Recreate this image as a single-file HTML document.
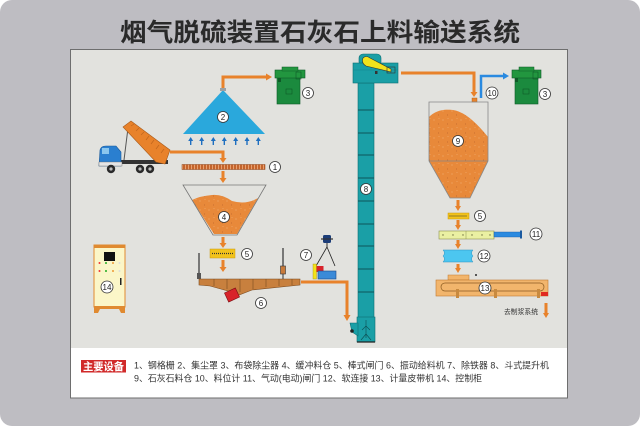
<!DOCTYPE html>
<html><head><meta charset="utf-8"><style>
html,body{margin:0;padding:0;background:#fff;}
svg{display:block;}
text{font-family:"Liberation Sans","Noto Sans CJK SC",sans-serif;}
</style></head><body>
<svg width="640" height="426" viewBox="0 0 640 426" xmlns="http://www.w3.org/2000/svg">
<defs>
<pattern id="grate" width="3" height="6" patternUnits="userSpaceOnUse"><rect width="3" height="6" fill="#c4642c"/><rect x="2" width="1" height="6" fill="#e7a070"/></pattern>
<pattern id="sand" width="9" height="9" patternUnits="userSpaceOnUse"><rect width="9" height="9" fill="#e8893a"/><circle cx="2" cy="3" r="0.5" fill="#f6c08a"/><circle cx="6.5" cy="7" r="0.45" fill="#b8602a"/><circle cx="7" cy="1.5" r="0.4" fill="#f6c08a"/></pattern>
</defs>
<!-- outer background -->
<rect x="0" y="0" width="640" height="426" rx="12" fill="#bebdc2"/>
<!-- title -->
<text x="320" y="41" font-size="25" font-weight="bold" text-anchor="middle" textLength="400" lengthAdjust="spacingAndGlyphs" fill="#2a2a2a" style="font-family:'Liberation Sans','Noto Sans CJK SC',sans-serif">烟气脱硫装置石灰石上料输送系统</text>
<!-- panel -->
<rect x="70.5" y="49.5" width="497" height="348.5" fill="#ffffff" stroke="#6e6e6e" stroke-width="1"/>
<rect x="71" y="50" width="496" height="298" fill="#e2e2de"/>

<!-- ===== Dust cover 2 ===== -->
<path d="M223,90 V77 H266" fill="none" stroke="#e8822b" stroke-width="3"/>
<polygon points="266,73.5 272,77 266,80.5" fill="#e8822b"/>
<polygon points="223,90 265,134 183,134" fill="#2aa8dc"/>
<rect x="220" y="88" width="6" height="3" fill="#9aa0a4"/>
<circle cx="223" cy="117" r="5.5" fill="#fff" stroke="#333" stroke-width="0.8"/>
<text x="223" y="120" font-size="8" text-anchor="middle" fill="#222">2</text>
<!-- blue up arrows -->
<g fill="#1f6fc0">
<polygon points="188.2,141 193.2,141 190.7,137"/><rect x="190" y="141" width="1.4" height="4"/>
<polygon points="199.2,141 204.2,141 201.7,137"/><rect x="201" y="141" width="1.4" height="4"/>
<polygon points="210.8,141 215.8,141 213.3,137"/><rect x="212.6" y="141" width="1.4" height="4"/>
<polygon points="221.8,141 226.8,141 224.3,137"/><rect x="223.6" y="141" width="1.4" height="4"/>
<polygon points="233.2,141 238.2,141 235.7,137"/><rect x="235" y="141" width="1.4" height="4"/>
<polygon points="244.5,141 249.5,141 247,137"/><rect x="246.3" y="141" width="1.4" height="4"/>
<polygon points="255.8,141 260.8,141 258.3,137"/><rect x="257.6" y="141" width="1.4" height="4"/>
</g>

<!-- ===== Dust collector 3 (left) ===== -->
<g>
<rect x="277" y="75" width="23" height="29" fill="#1b8a3e" stroke="#0f5a28" stroke-width="0.6"/>
<rect x="275" y="70" width="30" height="8" fill="#22963f" stroke="#0f5a28" stroke-width="0.6"/>
<rect x="282" y="67" width="16" height="4" fill="#22963f" stroke="#0f5a28" stroke-width="0.5"/>
<rect x="296" y="72" width="5" height="7" fill="none" stroke="#0f5a28" stroke-width="0.6"/>
<rect x="286" y="89" width="6" height="5" fill="none" stroke="#0f5a28" stroke-width="0.6"/>
<rect x="278" y="78" width="3" height="4" fill="#0f5a28"/>
</g>
<circle cx="308" cy="93" r="5.5" fill="#fff" stroke="#333" stroke-width="0.8"/>
<text x="308" y="96" font-size="8" text-anchor="middle" fill="#222">3</text>

<!-- ===== Truck ===== -->
<g>
<!-- chassis -->
<rect x="110" y="160" width="58" height="4" fill="#333"/>
<!-- hydraulic -->
<line x1="124" y1="160" x2="128" y2="128" stroke="#555" stroke-width="1"/>
<!-- dump bed -->
<polygon points="123,127 131,121 170,150 165,164 156,162" fill="#e8822b" stroke="#a85a1a" stroke-width="0.6"/>
<g stroke="#c0661e" stroke-width="0.7">
<line x1="131" y1="126" x2="134" y2="124"/><line x1="136" y1="131" x2="139" y2="128"/><line x1="141" y1="135" x2="144" y2="132"/><line x1="146" y1="140" x2="149" y2="136"/><line x1="151" y1="144" x2="154" y2="140"/><line x1="156" y1="149" x2="159" y2="145"/><line x1="161" y1="153" x2="164" y2="149"/>
</g>
<!-- cab -->
<path d="M100,150 Q101,146 106,146 L116,146 L121,152 L121,166 L99,166 Z" fill="#2a7fd0" stroke="#1a5a9a" stroke-width="0.6"/>
<rect x="102" y="148" width="7" height="6" fill="#8ac6ee"/>
<rect x="99" y="162" width="23" height="4" fill="#e5e5e5" stroke="#666" stroke-width="0.4"/>
<!-- wheels -->
<circle cx="111" cy="169" r="4.2" fill="#2a2a2a"/><circle cx="111" cy="169" r="1.6" fill="#bbb"/>
<circle cx="140" cy="169" r="4.2" fill="#2a2a2a"/><circle cx="140" cy="169" r="1.6" fill="#bbb"/>
<circle cx="150" cy="169" r="4.2" fill="#2a2a2a"/><circle cx="150" cy="169" r="1.6" fill="#bbb"/>
</g>
<!-- truck pipe -->
<path d="M170,152 H223 V158" fill="none" stroke="#e8822b" stroke-width="3"/>
<polygon points="219.5,158 226.5,158 223,163" fill="#e8822b"/>

<!-- ===== Grate 1 ===== -->
<rect x="182" y="164.5" width="83" height="5" fill="url(#grate)" stroke="#8a4018" stroke-width="0.5"/>
<circle cx="275" cy="167" r="5.5" fill="#fff" stroke="#333" stroke-width="0.8"/>
<text x="275" y="170" font-size="8" text-anchor="middle" fill="#222">1</text>
<line x1="223" y1="171" x2="223" y2="178" stroke="#e8822b" stroke-width="3"/>
<polygon points="219.5,178 226.5,178 223,183" fill="#e8822b"/>

<!-- ===== Hopper 4 ===== -->
<path d="M192,200 Q200,196 212,195 Q222,194 232,201 Q246,205 258,198 L237,234 L214,234 Z" fill="url(#sand)"/>
<polygon points="183,185 266,185 237,235 213,235" fill="none" stroke="#777" stroke-width="0.8"/>
<circle cx="224" cy="217" r="5.5" fill="#fff" stroke="#333" stroke-width="0.8"/>
<text x="224" y="220" font-size="8" text-anchor="middle" fill="#222">4</text>
<line x1="223" y1="237" x2="223" y2="243" stroke="#e8822b" stroke-width="3"/>
<polygon points="219.5,243 226.5,243 223,248" fill="#e8822b"/>

<!-- ===== Gate 5 (left) ===== -->
<rect x="210" y="249" width="25" height="9" fill="#f2c31b" stroke="#c89a10" stroke-width="0.5"/>
<line x1="212" y1="253.5" x2="233" y2="253.5" stroke="#333" stroke-width="1.2" stroke-dasharray="1,1"/>
<circle cx="247" cy="254" r="5.5" fill="#fff" stroke="#333" stroke-width="0.8"/>
<text x="247" y="257" font-size="8" text-anchor="middle" fill="#222">5</text>
<line x1="223" y1="260" x2="223" y2="267" stroke="#e8822b" stroke-width="3"/>
<polygon points="219.5,267 226.5,267 223,272" fill="#e8822b"/>

<!-- ===== Feeder 6 ===== -->
<line x1="199" y1="253" x2="199" y2="274" stroke="#333" stroke-width="1.2"/>
<rect x="197" y="273" width="4" height="6" fill="#555"/>
<line x1="283" y1="248" x2="283" y2="266" stroke="#333" stroke-width="1.2"/>
<rect x="280.5" y="266" width="5" height="8" fill="#c87a3a" stroke="#333" stroke-width="0.6"/>
<line x1="283" y1="274" x2="283" y2="279" stroke="#333" stroke-width="1"/>
<polygon points="199,279 300,279 300,285 252,290 234,297 228,291 210,286 199,285" fill="#c8803e" stroke="#7a4a20" stroke-width="0.6"/>
<g stroke="#7a4a20" stroke-width="0.6">
<line x1="214" y1="279" x2="214" y2="286"/><line x1="227" y1="279" x2="227" y2="289"/><line x1="240" y1="279" x2="240" y2="292"/><line x1="253" y1="279" x2="253" y2="289"/><line x1="266" y1="279" x2="266" y2="287"/><line x1="279" y1="279" x2="279" y2="286"/><line x1="292" y1="279" x2="292" y2="285"/>
</g>
<g transform="rotate(-25 232 295)">
<rect x="226" y="290" width="12" height="10" fill="#d8232a" stroke="#7a1015" stroke-width="0.6"/>
</g>
<circle cx="261" cy="303" r="5.5" fill="#fff" stroke="#333" stroke-width="0.8"/>
<text x="261" y="306" font-size="8" text-anchor="middle" fill="#222">6</text>
<!-- feeder pipe -->
<path d="M301,282 H347 V315" fill="none" stroke="#e8822b" stroke-width="3"/>
<polygon points="343.5,315 350.5,315 347,321" fill="#e8822b"/>

<!-- ===== Iron remover 7 ===== -->
<circle cx="306" cy="255" r="5.5" fill="#fff" stroke="#333" stroke-width="0.8"/>
<text x="306" y="258" font-size="8" text-anchor="middle" fill="#222">7</text>
<rect x="323" y="235" width="8" height="8" rx="1.5" fill="#1c3d78"/>
<line x1="321" y1="239" x2="333" y2="239" stroke="#333" stroke-width="1.2"/>
<line x1="327" y1="243" x2="327" y2="247" stroke="#333" stroke-width="1"/>
<path d="M327,247 L316,266 M327,247 L335,266" stroke="#222" stroke-width="0.8" fill="none"/>
<rect x="313" y="264" width="3.5" height="15" fill="#f2e21a" stroke="#a09010" stroke-width="0.4"/>
<rect x="316.5" y="266" width="7" height="6" fill="#d8232a"/>
<rect x="318" y="271" width="18" height="8" fill="#3a8ad8" stroke="#1a4a8a" stroke-width="0.6"/>

<!-- ===== Control cabinet 14 ===== -->
<rect x="94" y="245" width="31" height="62" fill="#fbf6c8" stroke="#e08a30" stroke-width="1"/>
<rect x="94" y="245" width="31" height="3" fill="#e08a30"/>
<polygon points="94,306 125,306 125,313 121,313 119,309 100,309 98,313 94,313" fill="#e08a30"/>
<rect x="104" y="252" width="11" height="9" fill="#111"/>
<g>
<circle cx="99.5" cy="263" r="1" fill="#e33"/><circle cx="106" cy="263" r="1" fill="#2a2"/><circle cx="113" cy="263" r="1" fill="#e93"/><circle cx="119.5" cy="263" r="1" fill="#ddd"/>
<circle cx="99.5" cy="271" r="1" fill="#e33"/><circle cx="106" cy="271" r="1" fill="#2a2"/><circle cx="113" cy="271" r="1" fill="#e93"/><circle cx="119.5" cy="271" r="1" fill="#ddd"/>
</g>
<rect x="120" y="278" width="1.5" height="7" fill="#222"/>
<circle cx="107" cy="287" r="6" fill="#fff" stroke="#333" stroke-width="0.8"/>
<text x="107" y="290" font-size="8" text-anchor="middle" fill="#222">14</text>

<!-- ===== Bucket elevator 8 ===== -->
<rect x="358" y="83" width="16" height="235" fill="#1a9fa6" stroke="#0f6f74" stroke-width="0.6"/>
<g stroke="#0d4f53" stroke-width="0.9">
<line x1="358" y1="110" x2="374" y2="110"/><line x1="358" y1="133" x2="374" y2="133"/><line x1="358" y1="155" x2="374" y2="155"/><line x1="358" y1="178" x2="374" y2="178"/><line x1="358" y1="201" x2="374" y2="201"/><line x1="358" y1="224" x2="374" y2="224"/><line x1="358" y1="246" x2="374" y2="246"/><line x1="358" y1="269" x2="374" y2="269"/><line x1="358" y1="292" x2="374" y2="292"/>
</g>
<rect x="359" y="54" width="22" height="12" rx="4" fill="#1a9fa6" stroke="#0f6f74" stroke-width="0.6"/>
<rect x="353" y="63" width="45" height="20" fill="#1a9fa6" stroke="#0f6f74" stroke-width="0.6"/>
<line x1="353" y1="70" x2="398" y2="70" stroke="#13858b" stroke-width="0.5"/>
<path d="M363,58 Q366,55 370,58 L391,69 L391,72 L366,66 Q361,63 363,58 Z" fill="#f3e31c" stroke="#333" stroke-width="0.6"/>
<rect x="387" y="67" width="8" height="6" fill="none" stroke="#333" stroke-width="0.6"/>
<rect x="375" y="71" width="2.5" height="3" fill="#333"/>
<circle cx="366" cy="189" r="5.5" fill="#fff" stroke="#333" stroke-width="0.8"/>
<text x="366" y="192" font-size="8" text-anchor="middle" fill="#222">8</text>
<!-- boot -->
<rect x="357" y="317" width="18" height="25" fill="#1a9fa6" stroke="#0f6f74" stroke-width="0.6"/>
<line x1="357" y1="342" x2="375" y2="342" stroke="#222" stroke-width="1.2"/>
<path d="M366,320 L366,338 M362,330 L366,326 L370,330 M361,340 L366,334 L371,340" stroke="#0d4f53" stroke-width="0.6" fill="none"/>
<polygon points="350,323 358,323 358,336 352,332" fill="#1a9fa6" stroke="#0f6f74" stroke-width="0.6"/>
<circle cx="352" cy="331" r="1.8" fill="#222"/>

<!-- elevator -> silo pipe -->
<path d="M401,73 H474 V92" fill="none" stroke="#e8822b" stroke-width="3"/>
<polygon points="470.5,92 477.5,92 474,97" fill="#e8822b"/>
<rect x="472" y="98" width="5" height="4" fill="#e8822b" stroke="#a85a1a" stroke-width="0.4"/>
<!-- blue pipe -->
<path d="M481,98 V76 H503" fill="none" stroke="#2a8ae0" stroke-width="2.5"/>
<polygon points="503,72.5 509,76 503,79.5" fill="#2a8ae0"/>
<circle cx="492" cy="93" r="6" fill="#fff" stroke="#333" stroke-width="0.8"/>
<text x="492" y="96" font-size="8" text-anchor="middle" fill="#222">10</text>

<!-- ===== Dust collector 3 (right) ===== -->
<g>
<rect x="515" y="75" width="23" height="29" fill="#1b8a3e" stroke="#0f5a28" stroke-width="0.6"/>
<rect x="512" y="70" width="29" height="8" fill="#22963f" stroke="#0f5a28" stroke-width="0.6"/>
<rect x="519" y="67" width="15" height="4" fill="#22963f" stroke="#0f5a28" stroke-width="0.5"/>
<rect x="533" y="72" width="5" height="7" fill="none" stroke="#0f5a28" stroke-width="0.6"/>
<rect x="523" y="89" width="6" height="5" fill="none" stroke="#0f5a28" stroke-width="0.6"/>
<rect x="515" y="78" width="3" height="4" fill="#0f5a28"/>
</g>
<circle cx="545" cy="94" r="5.5" fill="#fff" stroke="#333" stroke-width="0.8"/>
<text x="545" y="97" font-size="8" text-anchor="middle" fill="#222">3</text>

<!-- ===== Silo 9 ===== -->
<path d="M429,117 Q438,108 453,110 Q468,112 488,137 L488,161 L470,198 L450,198 L429,161 Z" fill="url(#sand)"/>
<path d="M429,102 H488 V161 L470,198 H450 L429,161 Z M429,161 H488" fill="none" stroke="#888" stroke-width="0.8"/>
<circle cx="458" cy="141" r="5.5" fill="#fff" stroke="#333" stroke-width="0.8"/>
<text x="458" y="144" font-size="8" text-anchor="middle" fill="#222">9</text>

<!-- right column arrows -->
<g fill="#e8822b">
<rect x="456.5" y="200" width="3" height="6"/><polygon points="455,206 461,206 458,211"/>
<rect x="456.5" y="220" width="3" height="5"/><polygon points="455,225 461,225 458,230"/>
<rect x="456.5" y="240" width="3" height="4"/><polygon points="455,244 461,244 458,249"/>
<rect x="456.5" y="264" width="3" height="4"/><polygon points="455,268 461,268 458,273"/>
</g>
<!-- Gate 5 right -->
<rect x="448" y="213" width="21" height="6" fill="#f2c31b" stroke="#c89a10" stroke-width="0.5"/>
<line x1="449.5" y1="216" x2="467.5" y2="216" stroke="#333" stroke-width="1" stroke-dasharray="1,1"/>
<circle cx="480" cy="216" r="5.5" fill="#fff" stroke="#333" stroke-width="0.8"/>
<text x="480" y="219" font-size="8" text-anchor="middle" fill="#222">5</text>
<!-- Gate 11 -->
<rect x="439" y="231" width="55" height="8" fill="#eaf0a2" stroke="#8a9050" stroke-width="0.6"/>
<line x1="466" y1="231" x2="466" y2="239" stroke="#8a9050" stroke-width="0.5"/>
<g fill="#6a6a40"><circle cx="443" cy="235" r="0.7"/><circle cx="453" cy="235" r="0.7"/><circle cx="463" cy="235" r="0.7"/><circle cx="472" cy="235" r="0.7"/><circle cx="482" cy="235" r="0.7"/><circle cx="490" cy="235" r="0.7"/></g>
<rect x="494" y="232" width="27" height="5" fill="#2a8ae0" stroke="#1a5aa0" stroke-width="0.4"/>
<rect x="520" y="230.5" width="2" height="8" fill="#1a5aa0"/>
<circle cx="536" cy="234" r="6" fill="#fff" stroke="#333" stroke-width="0.8"/>
<text x="536" y="237" font-size="8" text-anchor="middle" fill="#222">11</text>
<!-- Soft connection 12 -->
<path d="M443,250 H473 Q470,253 473,256 Q470,259 473,262 H443 Q446,259 443,256 Q446,253 443,250 Z" fill="#4cc6f0" stroke="#2a90c0" stroke-width="0.5"/>
<circle cx="484" cy="256" r="6" fill="#fff" stroke="#333" stroke-width="0.8"/>
<text x="484" y="259" font-size="8" text-anchor="middle" fill="#222">12</text>
<!-- Belt 13 -->
<rect x="448" y="275" width="21" height="5" fill="#f2b56c" stroke="#c07a30" stroke-width="0.5"/>
<rect x="475" y="274" width="2" height="2" fill="#555"/>
<rect x="436" y="280" width="112" height="16" fill="#f2b56c" stroke="#c07a30" stroke-width="0.6"/>
<rect x="441" y="283" width="103" height="8" rx="4" fill="none" stroke="#8a5a20" stroke-width="0.7"/>
<g fill="#c88a40"><rect x="456" y="289" width="3" height="9"/><rect x="494" y="289" width="3" height="9"/><rect x="537" y="289" width="3" height="9"/></g>
<rect x="541" y="292" width="7" height="4" fill="#e02a20"/>
<circle cx="485" cy="288" r="6" fill="#fff" stroke="#333" stroke-width="0.8"/>
<text x="485" y="291" font-size="8" text-anchor="middle" fill="#222">13</text>
<text x="504" y="314" font-size="7" textLength="34" lengthAdjust="spacingAndGlyphs" fill="#333">去制浆系统</text>
<rect x="544.5" y="303" width="3" height="10" fill="#e8822b"/>
<polygon points="543,313 549,313 546,318" fill="#e8822b"/>

<!-- ===== Legend ===== -->
<rect x="81" y="360" width="45" height="12.5" fill="#d12a2a"/>
<text x="103.5" y="370" font-size="10.5" font-weight="bold" text-anchor="middle" textLength="41" lengthAdjust="spacingAndGlyphs" fill="#fff">主要设备</text>
<text x="134" y="368.5" font-size="9" textLength="415" lengthAdjust="spacingAndGlyphs" fill="#333">1、钢格栅 2、集尘罩 3、布袋除尘器 4、缓冲料仓 5、棒式闸门 6、振动给料机 7、除铁器 8、斗式提升机</text>
<text x="134" y="381.5" font-size="9" textLength="348" lengthAdjust="spacingAndGlyphs" fill="#333">9、石灰石料仓 10、料位计 11、气动(电动)闸门 12、软连接 13、计量皮带机 14、控制柜</text>
</svg>
</body></html>
